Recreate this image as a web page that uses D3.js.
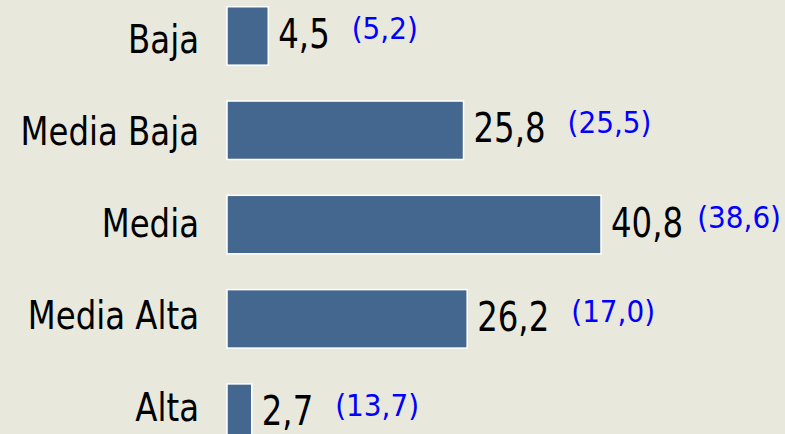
<!DOCTYPE html>
<html lang="es">
<head>
<meta charset="UTF-8">
<title>Nivel socioeconómico</title>
<style>
  body { margin: 0; background: #e9e8dc; }
  svg { display: block; }
  text { font-family: "DejaVu Sans Condensed", "DejaVu Sans", sans-serif; }
</style>
</head>
<body>
<div id="content"></div>
<script src="https://d3js.org/d3.v7.min.js"></script>
<script>
    // categorías y valores
    var categories = ["Baja", "Media Baja", "Media", "Media Alta", "Alta"];
    var values = [4.5, 25.8, 40.8, 26.2, 2.7];
    var valueLabels = ["4,5", "25,8", "40,8", "26,2", "2,7"];
    var compareLabels = ["(5,2)", "(25,5)", "(38,6)", "(17,0)", "(13,7)"];

    var width = 785, height = 434;

    var svg = d3.select("#content")
        .append("svg")
        .attr("width", width)
        .attr("height", height);

    svg.append("rect")
        .attr("width", width)
        .attr("height", height)
        .attr("fill", "#e9e8dc");

    var x = d3.scaleLinear()
        .domain([0, d3.max(values)])
        .range([227, 601]);

    var y = d3.scaleBand()
        .domain(categories)
        .range([-11.2, 460.3])
        .paddingInner(0.38)
        .paddingOuter(0.19);

    // las etiquetas de categoría tienen un paso algo menor que las barras
    var yLabel = d3.scalePoint()
        .domain(categories)
        .range([53, 420.7]);

    var rows = categories.map(function (c, i) {
        return { cat: c, v: values[i], lab: valueLabels[i], cmp: compareLabels[i] };
    });

    var g = svg.selectAll(".row")
        .data(rows)
        .enter()
        .append("g")
        .attr("class", "row");

    g.append("rect")
        .attr("x", x(0))
        .attr("y", function (d) { return y(d.cat); })
        .attr("width", function (d) { return x(d.v) - x(0); })
        .attr("height", y.bandwidth())
        .attr("fill", "#44678f")
        .attr("stroke", "#ffffff")
        .attr("stroke-width", 1.5);

    // etiqueta de categoría
    g.append("text")
        .attr("transform", function (d) {
            return "translate(199," + yLabel(d.cat) + ") scale(1,1.08)";
        })
        .attr("text-anchor", "end")
        .style("font-size", "36px")
        .attr("fill", "#000")
        .text(function (d) { return d.cat; });

    // valor
    var vt = g.append("text")
        .attr("class", "val")
        .attr("transform", function (d) {
            return "translate(" + (x(d.v) + 10) + "," + (y(d.cat) + y.bandwidth() / 2 + 12) + ") scale(1,1.12)";
        })
        .style("font-size", "36px")
        .attr("fill", "#000")
        .text(function (d) { return d.lab; });

    // comparación en azul, justo después del valor (sin salirse por la derecha)
    var ct = g.append("text")
        .attr("y", function (d) { return y(d.cat) + y.bandwidth() / 2 + 3; })
        .style("font-size", "31px")
        .attr("fill", "#0000ff")
        .text(function (d) { return d.cmp; });

    ct.attr("x", function (d, i) {
        var pos = x(d.v) + 10 + vt.nodes()[i].getComputedTextLength() + 22;
        var w = this.getComputedTextLength();
        return Math.min(pos, width - 4 - w);
    });
</script>
</body>
</html>
